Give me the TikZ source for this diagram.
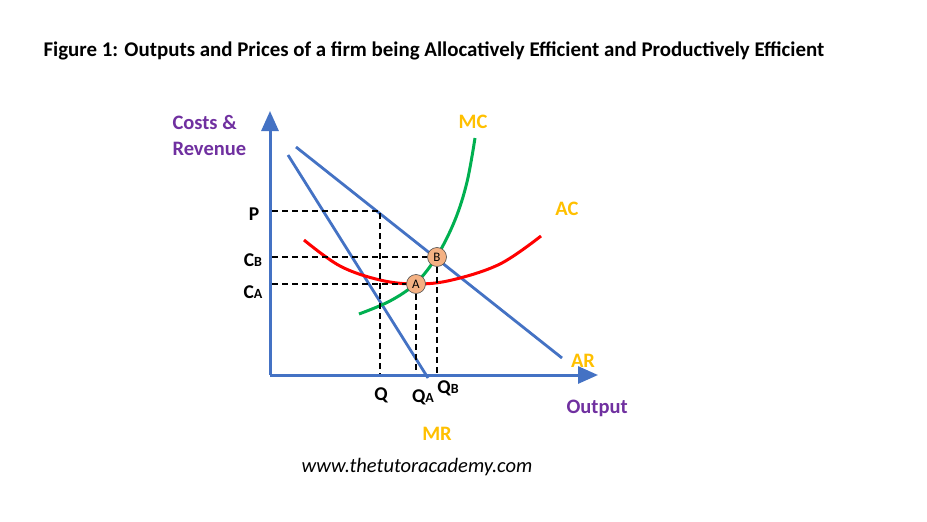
\documentclass[tikz,border=0pt]{standalone}
\usepackage{fontspec}
\setmainfont{Carlito}
\usetikzlibrary{arrows.meta}
\definecolor{cblue}{HTML}{4472C4}
\definecolor{cgreen}{HTML}{00B050}
\definecolor{corange}{HTML}{FFC000}
\definecolor{cpurple}{HTML}{7030A0}
\definecolor{cpeach}{HTML}{F4B183}
\newcommand{\smallcap}[1]{{\fontsize{14}{14}\selectfont #1}}
\tikzset{
  axis/.style={draw=cblue, line width=3pt, -{Triangle[length=20pt,width=17pt]}},
  curveline/.style={draw=cblue, line width=2.8pt},
  guide/.style={draw=black, line width=1.3pt, dash pattern=on 6pt off 4pt},
  pointmark/.style={circle, draw=black!70, line width=0.6pt, fill=cpeach, minimum size=19pt, inner sep=0pt, font=\fontsize{13}{13}\selectfont},
  ticklabel/.style={font=\bfseries\fontsize{19.5}{20}\selectfont, text=black},
  curvelabel/.style={font=\bfseries\fontsize{20.5}{21}\selectfont, text=corange},
  axislabel/.style={font=\bfseries\fontsize{20.5}{26}\selectfont, text=cpurple, align=left},
}
\begin{document}
\begin{tikzpicture}[x=1pt,y=-1pt]
\useasboundingbox[fill=white] (0,0) rectangle (927,522);
\node[anchor=west, font=\bfseries\fontsize{20.9}{22}\selectfont] (title) at (40,51) {Figure 1: Outputs and Prices of a firm being Allocatively Efficient and Productively Efficient};
% axes
\coordinate (O) at (270,375);
\coordinate (ytop) at (270,111);
\coordinate (xend) at (598,375);
% AR and MR
\coordinate (ar1) at (296,147);
\coordinate (ar2) at (562,358);
\coordinate (mr1) at (288,155);
\coordinate (mr2) at (428,378);
\draw[curveline] (ar1) -- (ar2);
\draw[curveline] (mr1) -- (mr2);
% AC curve
\draw[red, line width=3pt] plot[smooth, tension=0.6] coordinates {(304,240) (340,266) (380,280) (416,284) (452,280) (500,264) (541,236)};
% MC curve
\draw[cgreen, line width=3pt] plot[smooth, tension=0.6] coordinates {(359,314) (390,301) (416,283) (437,256) (455,220) (467,182) (475,138)};
% points
\node[pointmark] (A) at (416,284) {A};
\node[pointmark] (B) at (437,257) {B};
% guide lines
\coordinate (Py) at (272,211);
\coordinate (Pc) at (380,211);
\coordinate (Qx) at (380,375);
\coordinate (CBy) at (272,257);
\coordinate (CAy) at (272,284);
\coordinate (QAx) at (416,375);
\coordinate (QBx) at (437,375);
\draw[guide] (Py) -- (Pc) -- (Qx);
\draw[guide] (CBy) -- (B.west);
\draw[guide] (B.south) -- (QBx);
\draw[guide] (CAy) -- (A.west);
\draw[guide] (A.south) -- (QAx);
% axes on top
\draw[axis] (O) -- (ytop);
\draw[axis] (O) -- (xend);
% labels
\node[ticklabel] (lP) at (254,214) {P};
\node[ticklabel] (lCB) at (253,260) {C\smallcap{B}};
\node[ticklabel] (lCA) at (253,292) {C\smallcap{A}};
\node[ticklabel] (lQ) at (381,395) {Q};
\node[ticklabel] (lQA) at (423,397) {Q\smallcap{A}};
\node[ticklabel] (lQB) at (448,388) {Q\smallcap{B}};
\node[curvelabel] (lMC) at (473,122) {MC};
\node[curvelabel] (lAC) at (567,209) {AC};
\node[curvelabel] (lAR) at (583,361) {AR};
\node[curvelabel] (lMR) at (437,434) {MR};
\node[axislabel, anchor=west] (lOut) at (563,408) {Output};
\node[axislabel, anchor=north west] (lCR) at (169,112) {Costs \&\\Revenue};
\node[font=\itshape\fontsize{20.5}{21}\selectfont] (url) at (417,467) {www.thetutoracademy.com};
\end{tikzpicture}
\end{document}
